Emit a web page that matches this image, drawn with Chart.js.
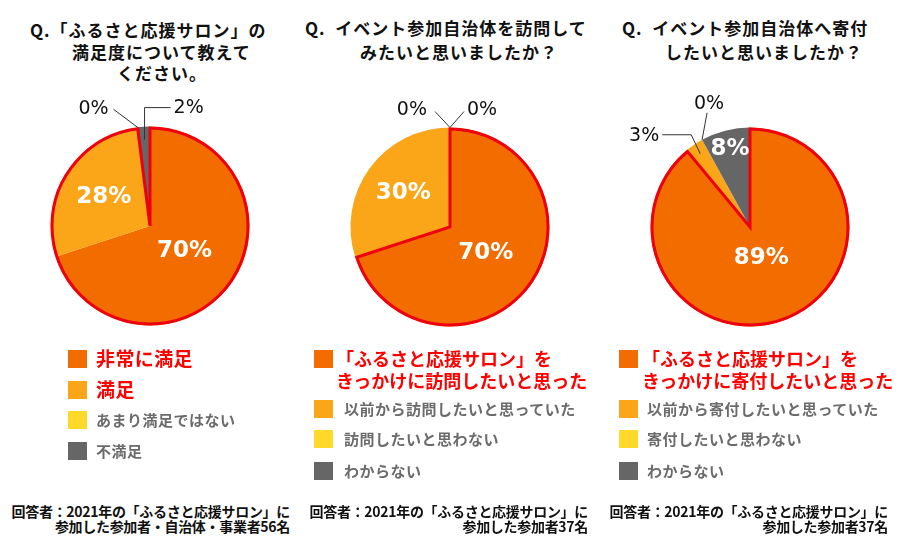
<!DOCTYPE html>
<html>
<head>
<meta charset="utf-8">
<script src="https://cdn.jsdelivr.net/npm/chart.js@4.4.1/dist/chart.umd.min.js"></script>
<style>
  body { margin: 0; background: #fff; }
  #stage { position: relative; width: 900px; height: 545px; overflow: hidden;
           font-family: "Noto Sans CJK JP", sans-serif; }
  canvas.pie { position: absolute; }
  .t { position: absolute; white-space: pre; font-weight: 700; }
  .title { font-size: 17px; letter-spacing: 1px; color: #111; height: 22px; line-height: 22px; }
  .box { position: absolute; width: 19px; height: 18px; }
  .red { color: #f00; font-weight: 700; }
  .gray { color: #6b6b6b; font-size: 15px; letter-spacing: 0.5px; }
  .note { font-size: 14px; color: #111; text-align: right; line-height: 15px; letter-spacing: -0.3px; }
</style>
</head>
<body>
<div id="stage"></div>
<script>
// data
const categories1 = ['非常に満足', '満足', 'あまり満足ではない', '不満足'];
const values1 = [70, 28, 0, 2];
const categories2 = ['「ふるさと応援サロン」を\nきっかけに訪問したいと思った', '以前から訪問したいと思っていた', '訪問したいと思わない', 'わからない'];
const values2 = [70, 30, 0, 0];
const categories3 = ['「ふるさと応援サロン」を\nきっかけに寄付したいと思った', '以前から寄付したいと思っていた', '寄付したいと思わない', 'わからない'];
const values3 = [89, 3, 0, 8];
const highlight1 = [0, 1];
const highlight2 = [0];
const highlight3 = [0];

const titles1 = ['Q.「ふるさと応援サロン」の', '満足度について教えて', 'ください。'];
const titles2 = ['Q.  イベント参加自治体を訪問して', 'みたいと思いましたか？'];
const titles3 = ['Q.  イベント参加自治体へ寄付', 'したいと思いましたか？'];
const notes1 = ['回答者：2021年の「ふるさと応援サロン」に', '参加した参加者・自治体・事業者56名'];
const notes2 = ['回答者：2021年の「ふるさと応援サロン」に', '参加した参加者37名'];
const notes3 = ['回答者：2021年の「ふるさと応援サロン」に', '参加した参加者37名'];

const sliceColors = ['#f26c00', '#fba519', '#ffd92a', '#666666'];
const RED = '#ee0010';

// layout for each panel
const panels = [
  {
    cats: categories1, vals: values1, hi: highlight1, titles: titles1, notes: notes1,
    cx: 150, cy: 226,
    titlePos: [[30, 29.5], [72, 52], [117, 73]],
    box: 68, redX: 96, grayX: 96, redSize: 19, rows: [350, 381, 411, 442],
    noteRight: 290,
    labels: [
      { k: 0.43 }, { k: 0.55 },
      { out: true, k: 1.0, kx: -24, ky: -18, hx: 0, tx: -5, ty: 0, align: 'right' },
      { out: true, k: 0.87, kx: 0, ky: -32, hx: 26, tx: 3, ty: 0, align: 'left' }
    ]
  },
  {
    cats: categories2, vals: values2, hi: highlight2, titles: titles2, notes: notes2,
    cx: 450, cy: 227,
    titlePos: [[305, 28], [360, 52]],
    box: 314, redX: 336, grayX: 344, redSize: 18, rows: [350, 400, 430, 462],
    noteRight: 588,
    labels: [
      { k: 0.445 }, { k: 0.58 },
      { out: true, k: 1.0, kx: -15, ky: -16, hx: 0, tx: -8, ty: -1, align: 'right' },
      { out: true, k: 1.0, kx: 14, ky: -16, hx: 0, tx: 3, ty: -1, align: 'left' }
    ]
  },
  {
    cats: categories3, vals: values3, hi: highlight3, titles: titles3, notes: notes3,
    cx: 750, cy: 227,
    titlePos: [[622, 28], [665, 52]],
    box: 619, redX: 642, grayX: 647, redSize: 18, rows: [350, 400, 430, 462],
    noteRight: 888,
    labels: [
      { k: 0.335 },
      { out: true, k: 0.89, kx: -9, ky: -19, hx: -29, tx: -3, ty: 1, align: 'right' },
      { out: true, k: 1.0, kx: 5, ky: -27, hx: 0, tx: 2, ty: -9, align: 'center' },
      { k: 0.81 }
    ]
  }
];

const stage = document.getElementById('stage');

function addText(cls, text, css) {
  const d = document.createElement('div');
  d.className = 't ' + cls;
  d.textContent = text;
  Object.assign(d.style, css);
  stage.appendChild(d);
  return d;
}

// red outline around the highlighted slices taken together
const hiOutline = {
  id: 'hiOutline',
  afterDatasetsDraw(chart, args, opts) {
    const meta = chart.getDatasetMeta(0);
    const first = meta.data[opts.indices[0]];
    const last = meta.data[opts.indices[opts.indices.length - 1]];
    const a = first.getProps(['x', 'y', 'startAngle', 'outerRadius'], true);
    const b = last.getProps(['endAngle'], true);
    const ctx = chart.ctx;
    ctx.save();
    ctx.strokeStyle = RED;
    ctx.lineWidth = 3;
    ctx.lineJoin = 'miter';
    ctx.beginPath();
    ctx.moveTo(a.x, a.y);
    ctx.arc(a.x, a.y, a.outerRadius - 1.5, a.startAngle, b.endAngle);
    ctx.closePath();
    ctx.stroke();
    ctx.restore();
  }
};

// percentage labels drawn from the arc elements
const pctLabels = {
  id: 'pctLabels',
  afterDatasetsDraw(chart, args, opts) {
    const ctx = chart.ctx;
    const meta = chart.getDatasetMeta(0);
    const vals = chart.data.datasets[0].data;
    meta.data.forEach((arc, i) => {
      const spec = opts.specs[i];
      if (!spec) return;
      const p = arc.getProps(['x', 'y', 'startAngle', 'endAngle', 'outerRadius'], true);
      const mid = (p.startAngle + p.endAngle) / 2;
      const ax = p.x + Math.cos(mid) * p.outerRadius * spec.k;
      const ay = p.y + Math.sin(mid) * p.outerRadius * spec.k;
      const txt = vals[i] + '%';
      ctx.save();
      ctx.textBaseline = 'middle';
      if (!spec.out) {
        ctx.font = 'bold 23px "DejaVu Sans"';
        ctx.fillStyle = '#fff';
        ctx.textAlign = 'center';
        ctx.fillText(txt, ax, ay);
      } else {
        const kx = ax + spec.kx, ky = ay + spec.ky;
        const ex = kx + spec.hx;
        ctx.strokeStyle = '#333';
        ctx.lineWidth = 1;
        ctx.beginPath();
        ctx.moveTo(ax, ay);
        ctx.lineTo(kx, ky);
        if (spec.hx) ctx.lineTo(ex, ky);
        ctx.stroke();
        ctx.font = '19px "DejaVu Sans"';
        ctx.fillStyle = '#111';
        ctx.textAlign = spec.align;
        ctx.fillText(txt, ex + spec.tx, ky + spec.ty);
      }
      ctx.restore();
    });
  }
};

panels.forEach((pn) => {
  // titles
  pn.titles.forEach((line, i) => {
    const [x, y] = pn.titlePos[i];
    addText('title', line, { left: x + 'px', top: (y - 11) + 'px' });
  });

  // pie
  const cv = document.createElement('canvas');
  cv.className = 'pie';
  cv.style.left = (pn.cx - 150) + 'px';
  cv.style.top = (pn.cy - 150) + 'px';
  cv.style.width = '300px';
  cv.style.height = '300px';
  stage.appendChild(cv);

  new Chart(cv, {
    type: 'pie',
    data: {
      labels: pn.cats,
      datasets: [{
        data: pn.vals,
        backgroundColor: sliceColors,
        borderWidth: 0
      }]
    },
    options: {
      responsive: false,
      animation: false,
      layout: { padding: 50.5 },
      plugins: {
        legend: { display: false },
        tooltip: { enabled: false },
        hiOutline: { indices: pn.hi },
        pctLabels: { specs: pn.labels }
      }
    },
    plugins: [hiOutline, pctLabels]
  });

  // legend
  pn.cats.forEach((c, i) => {
    const top = pn.rows[i];
    const b = document.createElement('div');
    b.className = 'box';
    b.style.left = pn.box + 'px';
    b.style.top = top + 'px';
    b.style.background = sliceColors[i];
    stage.appendChild(b);
    if (pn.hi.includes(i)) {
      addText('red', c, {
        left: pn.redX + 'px', top: (top - 3) + 'px',
        fontSize: pn.redSize + 'px', lineHeight: '22px', letterSpacing: pn.redSize > 18 ? '0.4px' : '0px'
      });
    } else {
      addText('gray', c, { left: pn.grayX + 'px', top: (top - 2) + 'px', lineHeight: '22px' });
    }
  });

  // respondent note
  addText('note', pn.notes.join('\n'), {
    left: (pn.noteRight - 290) + 'px', width: '290px', top: '504px'
  });
});
</script>
</body>
</html>
